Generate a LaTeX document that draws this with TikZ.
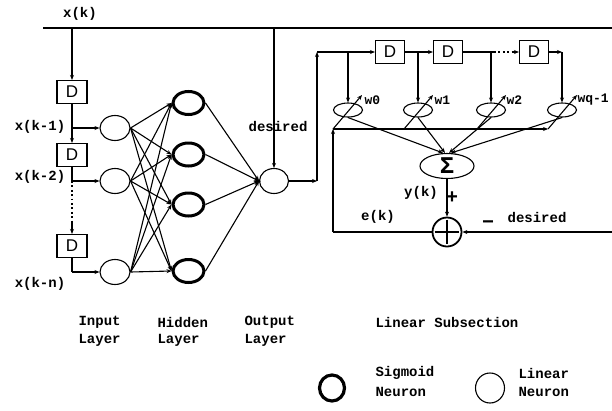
\documentclass[tikz,border=0pt]{standalone}
\usepackage{fontspec}
\setmainfont{Liberation Mono}
\newfontfamily\dfont{Liberation Sans}
\usetikzlibrary{arrows.meta,shapes.geometric}
\begin{document}
\begin{tikzpicture}[x=1pt,y=-1pt,
  >={Stealth[length=5pt,width=4pt]},
  line width=1.1pt,
  lbl/.style={font=\fontsize{14}{15}\selectfont\bfseries, inner sep=0pt},
  llbl/.style={lbl, anchor=west},
  wlbl/.style={font=\fontsize{13}{14}\selectfont\bfseries, inner sep=0pt, anchor=west},
  dbox/.style={draw, minimum width=30pt, minimum height=23pt, inner sep=0pt, font=\fontsize{17}{18}\selectfont\dfont},
  lin/.style={draw, ellipse, minimum width=30pt, minimum height=25pt, inner sep=0pt},
  sig/.style={draw, ellipse, line width=3pt, minimum width=31pt, minimum height=23pt, inner sep=0pt},
  wt/.style={draw, ellipse, minimum width=29pt, minimum height=14pt, inner sep=0pt},
  sumnode/.style={draw, ellipse, minimum width=54pt, minimum height=25pt, inner sep=0pt, font=\fontsize{24}{24}\selectfont\bfseries},
  dotline/.style={dash pattern=on 1.8pt off 2.6pt, line width=1.6pt},
]
\useasboundingbox (0,0) rectangle (612,410);

% top input bus
\node[lbl] (xk) at (80,14) {x(k)};
\coordinate (topL) at (43,28);
\coordinate (topR) at (612,28);
\draw (topL) -- (topR);

% tapped delay line (left)
\coordinate (tk) at (72,28);
\node[dbox] (d1) at (72,92) {D};
\node[dbox] (d2) at (72,155) {D};
\node[dbox] (d3) at (72,246) {D};
\coordinate (j1) at (72,128);
\coordinate (j2) at (72,181);
\coordinate (j2b) at (72,222);
\coordinate (j3) at (72,272);
\draw[->] (tk) -- (d1);
\draw (d1) -- (j1);
\draw[->] (j1) -- (d2);
\draw (d2) -- (j2);
\draw[dotline] (j2) -- (j2b);
\draw[->] (j2b) -- (d3);
\draw (d3) -- (j3);

\node[lbl] (l1) at (40,127) {x(k-1)};
\node[lbl] (l2) at (40,177) {x(k-2)};
\node[lbl] (l3) at (40,284) {x(k-n)};

% input layer
\node[lin] (i1) at (115,128) {};
\node[lin] (i2) at (115,181) {};
\node[lin] (i3) at (115,272) {};
\draw[->] (j1) -- (i1);
\draw[->] (j2) -- (i2);
\draw[->] (j3) -- (i3);

% hidden layer
\node[sig] (h1) at (188.5,103) {};
\node[sig] (h2) at (188.5,154.5) {};
\node[sig] (h3) at (188.5,204.5) {};
\node[sig] (h4) at (188.5,271) {};
\foreach \a in {i1,i2,i3}
  \foreach \b in {h1,h2,h3,h4}
    \draw[->] (\a.east) -- (\b.west);

% output layer
\node[lin, minimum width=29pt] (o) at (274,181) {};
\foreach \b in {h1,h2,h3,h4}
  \draw[->] (\b.east) -- (o.west);
\fill (o.west) circle (1.8pt);
\coordinate (td) at (274,28);
\draw[->] (td) -- (o);
\node[lbl] (des1) at (278,126) {desired};

% to linear subsection
\coordinate (c1) at (317,181);
\coordinate (c2) at (317,52);
\draw[->] (o) -- (c1);
\draw[->] (c1) -- (c2);

\node[dbox, minimum width=29pt] (ld1) at (390,52) {D};
\node[dbox, minimum width=29pt] (ld2) at (448,52) {D};
\node[dbox, minimum width=29pt] (ld3) at (534,52) {D};
\coordinate (t0) at (348,52);
\coordinate (t1) at (418,52);
\coordinate (t2) at (491,52);
\coordinate (t3) at (562,52);
\coordinate (dA) at (494,52);
\coordinate (dB) at (512,52);
\draw[->] (c2) -- (ld1);
\draw[->] (ld1) -- (ld2);
\draw (ld2) -- (dA);
\draw[dotline] (dA) -- (dB);
\draw[->] (dB) -- (ld3);
\draw[->] (ld3) -- (t3);

% weights
\node[wt] (w0) at (348,110) {};
\node[wt] (w1) at (418,110) {};
\node[wt] (w2) at (491,110) {};
\node[wt] (w3) at (562,110) {};
\draw[->] (t0) -- (w0);
\draw[->] (t1) -- (w1);
\draw[->] (t2) -- (w2);
\draw[->] (t3) -- (w3);

\coordinate (fb0) at (333,129);
\coordinate (fb1) at (548,129);
\coordinate (a1) at (404,129);
\coordinate (a2) at (477,129);
\coordinate (b0) at (362,95);
\coordinate (b1) at (433,95);
\coordinate (b2) at (506,95);
\coordinate (b3) at (577,95);
\draw[->] (fb0) -- (fb1);
\draw[->] (fb0) -- (b0);
\draw[->] (a1) -- (b1);
\draw[->] (a2) -- (b2);
\draw[->] (fb1) -- (b3);

\node[wlbl] (wl0) at (364,100) {w0};
\node[wlbl] (wl1) at (434,100) {w1};
\node[wlbl] (wl2) at (506,100) {w2};
\node[wlbl] (wl3) at (577,100) {wq-1};

% summation
\node[sumnode] (sum) at (447,166) {Σ};
\draw[->] (w0.south) -- ([xshift=-4pt]sum.north);
\draw[->] (w1.south) -- ([xshift=-2pt]sum.north);
\draw[->] (w2.south) -- ([xshift=2pt]sum.north);
\draw[->] (w3.south) -- ([xshift=4pt]sum.north);

% error node
\node[draw, circle, line width=1.8pt, minimum size=29pt, inner sep=0pt] (ad) at (447,232) {};
\draw[line width=2.6pt] ([xshift=3pt]ad.west) -- ([xshift=-3pt]ad.east);
\draw[line width=2.6pt] ([yshift=-3pt]ad.north) -- ([yshift=3pt]ad.south);
\draw[->] (sum) -- (ad);
\coordinate (dr) at (612,232);
\coordinate (ec) at (333,232);
\draw[->] (dr) -- (ad);
\draw (ad) -- (ec);
\draw[->] (ec) -- (fb0);

\node[lbl] (yk) at (421,193) {y(k)};
\node[font=\fontsize{20}{20}\selectfont\bfseries, inner sep=0pt] (plus) at (452,198) {+};
\node[lbl] (ek) at (378,217) {e(k)};
\node[lbl] (des2) at (537,217) {desired};
\node[font=\fontsize{20}{20}\selectfont\bfseries, inner sep=0pt] (minus) at (488,225) {−};

% captions
\node[llbl] (cap1a) at (78,322) {Input};
\node[llbl] (cap1b) at (78,340) {Layer};
\node[llbl] (cap2a) at (157,322) {Hidden};
\node[llbl] (cap2b) at (157,340) {Layer};
\node[llbl] (cap3a) at (244,322) {Output};
\node[llbl] (cap3b) at (244,340) {Layer};
\node[llbl] (cap4) at (375,322) {Linear Subsection};

% legend
\node[draw, ellipse, line width=3.2pt, minimum width=25pt, minimum height=26pt, inner sep=0pt] (legS) at (332,388) {};
\node[llbl] (legS1) at (375,373) {Sigmoid};
\node[llbl] (legS2) at (375,392) {Neuron};
\node[draw, ellipse, minimum width=29pt, minimum height=30pt, inner sep=0pt] (legL) at (490,388) {};
\node[llbl] (legL1) at (518,373) {Linear};
\node[llbl] (legL2) at (518,392) {Neuron};
\end{tikzpicture}
\end{document}
